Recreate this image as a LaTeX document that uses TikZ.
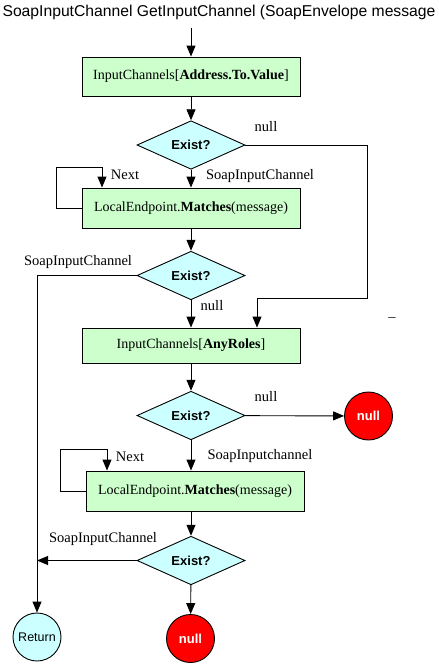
\documentclass[tikz,border=0pt]{standalone}
\usepackage{fontspec}
\setmainfont{Liberation Serif}
\setsansfont{Liberation Sans}
\usetikzlibrary{shapes.geometric,arrows.meta,positioning}
\definecolor{boxgreen}{HTML}{CCFFCC}
\definecolor{askcyan}{HTML}{CCFFFF}
\definecolor{stopred}{HTML}{FF0000}
\tikzset{
  procbox/.style={draw,fill=boxgreen,minimum width=218pt,minimum height=39pt,inner sep=0pt,font=\fontsize{14}{16}\selectfont},
  askbox/.style={draw,diamond,fill=askcyan,minimum width=108pt,minimum height=44pt,inner sep=0pt,font=\sffamily\bfseries\fontsize{13}{15}\selectfont},
  endbox/.style={draw,circle,minimum size=48pt,inner sep=0pt,font=\sffamily\fontsize{12.5}{14}\selectfont},
  lbl/.style={inner sep=0pt,font=\fontsize{14.5}{16}\selectfont},
  flow/.style={-{Triangle[length=11pt,width=9pt]}},
}
\begin{document}
\begin{tikzpicture}[x=1pt,y=-1pt,line width=0.9pt]
\useasboundingbox (0,0) rectangle (439,665);
\node[inner sep=0pt,font=\sffamily\fontsize{15.7}{18}\selectfont] (head) at (219,12) {SoapInputChannel GetInputChannel (SoapEnvelope message};
\node[procbox] (box1) at (191,76.5) {InputChannels[\textbf{Address.To.Value}]};
\node[askbox] (ask1) at (191,145) {Exist?};
\node[procbox,minimum height=40pt] (box2) at (191,208) {LocalEndpoint.\textbf{Matches}(message)};
\node[askbox] (ask2) at (191,275.5) {Exist?};
\node[procbox,minimum height=35pt] (box3) at (191,345.5) {InputChannels[\textbf{AnyRoles}]};
\node[askbox] (ask3) at (191,415.5) {Exist?};
\node[endbox,fill=stopred,text=white,font=\sffamily\bfseries\fontsize{13}{15}\selectfont] (null1) at (368.5,416) {null};
\node[procbox,minimum height=40pt] (box4) at (195,491) {LocalEndpoint.\textbf{Matches}(message)};
\node[askbox] (ask4) at (191,560.5) {Exist?};
\node[endbox,fill=stopred,text=white,font=\sffamily\bfseries\fontsize{13}{15}\selectfont] (null2) at (190.5,638.5) {null};
\node[endbox,fill=askcyan] (ret) at (37,637) {Return};

% labels
\node[lbl] (l1) at (266,127) {null};
\node[lbl] (l2) at (260,176) {SoapInputChannel};
\node[lbl] (l3) at (125,175) {Next};
\node[lbl] (l4) at (78,262) {SoapInputChannel};
\node[lbl] (l5) at (212,306) {null};
\node[lbl] (l6) at (266,397) {null};
\node[lbl] (l7) at (260,456) {SoapInputchannel};
\node[lbl] (l8) at (130,457) {Next};
\node[lbl] (l9) at (103,539) {SoapInputChannel};
\node[lbl] (stray) at (392,320) {\textendash};

% bends
\coordinate (c1) at (367,298);
\coordinate (n1) at (257,298);
\coordinate (lp1) at (56,167);
\coordinate (lp2) at (102,167);
\coordinate (lq1) at (60,449);
\coordinate (lq2) at (107,449);

\draw[flow] (head.south -| box1.north) ++(0,8) -- (box1.north);
\draw[flow] (box1) -- (ask1);
\draw[flow] (ask1) -- (box2);
\draw[flow] (ask1.east) -| (c1) -- (n1) -- (n1 |- box3.north);
\draw[flow] (box2.west) -| (lp1) -- (lp2) -- (lp2 |- box2.north);
\draw[flow] (box2) -- (ask2);
\draw[flow] (ask2.west) -| (ret.north);
\draw[flow] (ask2) -- (box3);
\draw[flow] (box3) -- (ask3);
\draw[flow] (ask3) -- (null1);
\draw[flow] (ask3.south) -- (ask3.south |- box4.north);
\draw[flow] (box4.west) -| (lq1) -- (lq2) -- (lq2 |- box4.north);
\draw[flow] (ask4.north |- box4.south) -- (ask4.north);
\draw[flow] (ask4.west) -- (ask4.west -| ret.north);
\draw[flow] (ask4) -- (null2);
\end{tikzpicture}
\end{document}
